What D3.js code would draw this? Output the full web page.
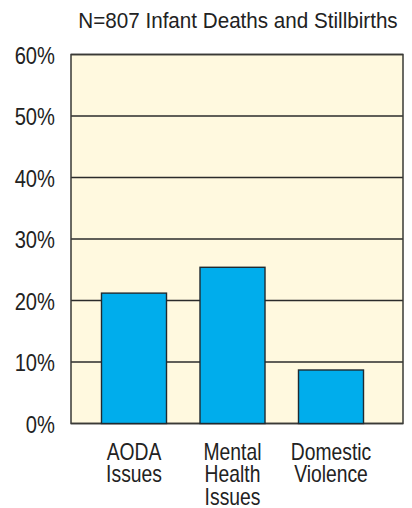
<!DOCTYPE html>
<html>
<head>
<meta charset="utf-8">
<script src="https://cdn.jsdelivr.net/npm/d3@7"></script>
<style>
  body { margin: 0; background: #fff; }
</style>
</head>
<body>
<svg width="412" height="508"></svg>
<script>
// data
var categories = [["AODA", "Issues"], ["Mental", "Health", "Issues"], ["Domestic", "Violence"]];
var values = [21.2, 25.4, 8.7];
var yTicks = [0, 10, 20, 30, 40, 50, 60];
var title = "N=807 Infant Deaths and Stillbirths";

var svg = d3.select("svg");
var plotL = 71, plotR = 403, plotT = 54.5, plotB = 423.5;
var squeeze = 0.84;   // condensed look

var y = d3.scaleLinear().domain([0, 60]).range([plotB, plotT]);
var x = d3.scaleBand()
    .domain(categories.map(function(d, i) { return i; }))
    .range([84.75, 380.25])
    .paddingInner(0.34)
    .paddingOuter(0.17);

// plot background
svg.append("rect")
    .attr("x", plotL).attr("y", plotT)
    .attr("width", plotR - plotL).attr("height", plotB - plotT)
    .attr("fill", "#fff9df");

// grid lines
svg.append("g").selectAll("line")
    .data(yTicks)
    .enter().append("line")
    .attr("x1", plotL).attr("x2", plotR)
    .attr("y1", function(d) { return y(d); })
    .attr("y2", function(d) { return y(d); })
    .attr("stroke", "#2b2b2b")
    .attr("stroke-width", 1.3);

// frame
svg.append("rect")
    .attr("x", plotL).attr("y", plotT)
    .attr("width", plotR - plotL).attr("height", plotB - plotT)
    .attr("fill", "none")
    .attr("stroke", "#3a3a36")
    .attr("stroke-width", 1.5);

// bars
svg.append("g").selectAll("rect")
    .data(values)
    .enter().append("rect")
    .attr("x", function(d, i) { return x(i); })
    .attr("y", function(d) { return y(d); })
    .attr("width", x.bandwidth())
    .attr("height", function(d) { return y(0) - y(d); })
    .attr("fill", "#00adec")
    .attr("stroke", "#1f2a30")
    .attr("stroke-width", 1.4);

// y axis labels
var yAxis = d3.axisLeft(y)
    .tickValues(yTicks)
    .tickFormat(function(d) { return d + "%"; })
    .tickSize(0)
    .tickPadding(0);
var gy = svg.append("g")
    .attr("transform", "translate(" + plotL + ",0)")
    .call(yAxis);
gy.select(".domain").remove();
gy.selectAll("text")
    .attr("font-family", "'Liberation Sans', Arial, sans-serif")
    .attr("font-size", 24)
    .attr("fill", "#222")
    .attr("x", -16 / squeeze)
    .attr("dy", "0.36em")
    .attr("transform", "scale(" + squeeze + ",1)");

// x labels
var gx = svg.append("g");
gx.selectAll("text")
    .data(categories)
    .enter().append("text")
    .attr("transform", function(d, i) {
      return "translate(" + (x(i) + x.bandwidth() / 2) + ",459.5) scale(" + squeeze + ",1)";
    })
    .attr("text-anchor", "middle")
    .attr("font-family", "'Liberation Sans', Arial, sans-serif")
    .attr("font-size", 23)
    .attr("fill", "#222")
    .selectAll("tspan")
    .data(function(d) { return d; })
    .enter().append("tspan")
    .attr("x", 0)
    .attr("dy", function(d, i) { return i === 0 ? 0 : 23; })
    .text(function(d) { return d; });

// title
svg.append("text")
    .attr("transform", "translate(238,28) scale(0.96,1)")
    .attr("text-anchor", "middle")
    .attr("font-family", "'Liberation Sans', Arial, sans-serif")
    .attr("font-size", 21.5)
    .attr("fill", "#222")
    .text(title);
</script>
</body>
</html>
